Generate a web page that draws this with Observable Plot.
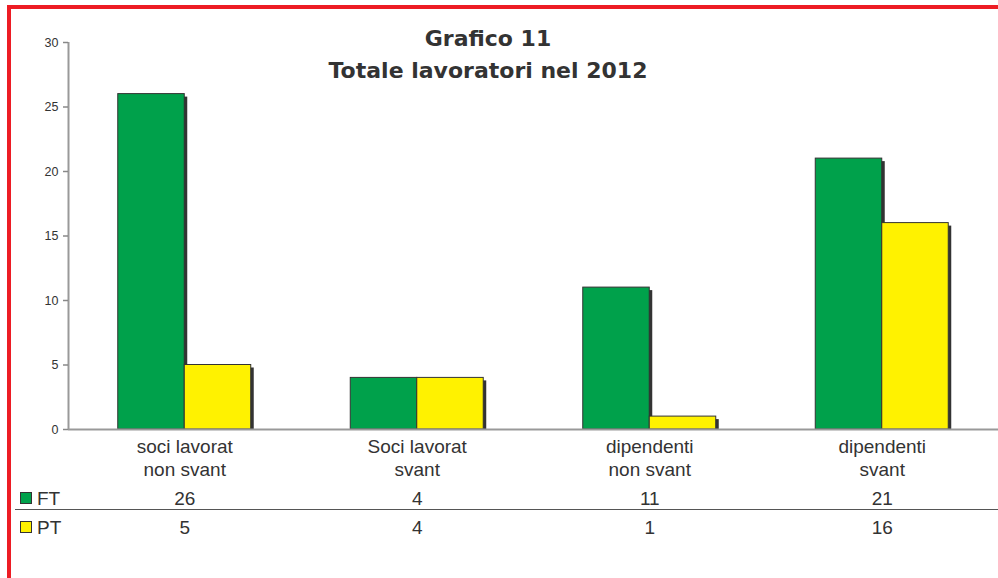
<!DOCTYPE html>
<html>
<head>
<meta charset="utf-8">
<script src="https://cdn.jsdelivr.net/npm/d3@7"></script>
<script src="https://cdn.jsdelivr.net/npm/@observablehq/plot@0.6"></script>
<style>
  html, body { margin: 0; padding: 0; background: #fff; overflow: hidden; }
  #wrap { position: relative; width: 998px; height: 578px; overflow: hidden; font-family: "Liberation Sans", Arial, sans-serif; color: #333; }
  #border { position: absolute; left: 7px; top: 5px; width: 1200px; height: 800px; border-left: 4px solid #ED1C24; border-top: 4px solid #ED1C24; }
  #title { position: absolute; left: 238px; width: 500px; top: 23px; text-align: center; font-family: "DejaVu Sans", Verdana, sans-serif; font-weight: bold; font-size: 22px; line-height: 32px; color: #333; }
  #chart { position: absolute; left: 0; top: 0; }
  .leg { position: absolute; left: 20px; font-size: 19px; line-height: 19px; }
  .sw { position: absolute; left: 0; top: 3px; width: 10px; height: 10px; border: 1px solid #333; }
  .leg span.t { position: absolute; left: 17px; top: 0; }
  #divider { position: absolute; left: 15px; top: 509px; width: 990px; height: 0; border-top: 1.5px solid #555; }
</style>
</head>
<body>
<div id="wrap">
  <div id="chart"></div>
  <div id="border"></div>
  <div id="title">Grafico 11<br>Totale lavoratori nel 2012</div>
  <div id="divider"></div>
  <div class="leg" style="top:489px"><div class="sw" style="background:#00A14B"></div><span class="t">FT</span></div>
  <div class="leg" style="top:518px"><div class="sw" style="background:#FFF200"></div><span class="t">PT</span></div>
</div>
<script>
const categories = ["soci lavorat\nnon svant", "Soci lavorat\nsvant", "dipendenti\nnon svant", "dipendenti\nsvant"];
const series = ["FT", "PT"];
const ftValues = [26, 4, 11, 21];
const ptValues = [5, 4, 1, 16];
const yTicks = [0, 5, 10, 15, 20, 25, 30];
const colors = {FT: "#00A14B", PT: "#FFF200"};

const barW = 0.286; // fraction of category step
const rows = [];
categories.forEach((c, i) => {
  rows.push({i, cat: c, series: "FT", value: ftValues[i]});
  rows.push({i, cat: c, series: "PT", value: ptValues[i]});
});
const x1 = d => d.series === "FT" ? d.i - barW : d.i;
const x2 = d => d.series === "FT" ? d.i : d.i + barW;
const idx = categories.map((c, i) => i);

const chart = Plot.plot({
  width: 998,
  height: 578,
  marginLeft: 68,
  marginRight: 0,
  marginTop: 42,
  marginBottom: 149,
  style: {fontFamily: "'Liberation Sans', Arial, sans-serif", color: "#333", background: "transparent"},
  x: {type: "linear", domain: [-0.5, categories.length - 0.5], axis: null},
  y: {domain: [0, 30], ticks: yTicks, axis: null},
  marks: [
    // shadows
    Plot.rectY(rows, {x1, x2, y1: 0, y2: "value", fill: "#333", dx: 3, insetTop: 3}),
    // bars
    Plot.rectY(rows.filter(d => d.series === "FT"), {x1, x2, y1: 0, y2: "value", fill: colors.FT, stroke: "#333", strokeWidth: 1}),
    Plot.rectY(rows.filter(d => d.series === "PT"), {x1, x2, y1: 0, y2: "value", fill: colors.PT, stroke: "#333", strokeWidth: 1}),
    // axes lines
    Plot.ruleY([0], {stroke: "#999", strokeWidth: 2}),
    Plot.ruleX([-0.5], {stroke: "#999", strokeWidth: 2}),
    Plot.axisY({ticks: yTicks, tickSize: 5, tickPadding: 5, fontSize: 12.5, stroke: "#888", strokeWidth: 1.5, color: "#333", label: null}),
    // category labels
    Plot.text(idx, {x: d => d, y: 0, text: d => categories[d], dy: 8, lineAnchor: "top", lineHeight: 1.17, fontSize: 19, fill: "#333"}),
    // table rows
    Plot.text(idx, {x: d => d, y: 0, text: d => String(ftValues[d]), dy: 69, fontSize: 19, fill: "#333"}),
    Plot.text(idx, {x: d => d, y: 0, text: d => String(ptValues[d]), dy: 98, fontSize: 19, fill: "#333"})
  ]
});
document.getElementById("chart").appendChild(chart);
</script>
</body>
</html>
